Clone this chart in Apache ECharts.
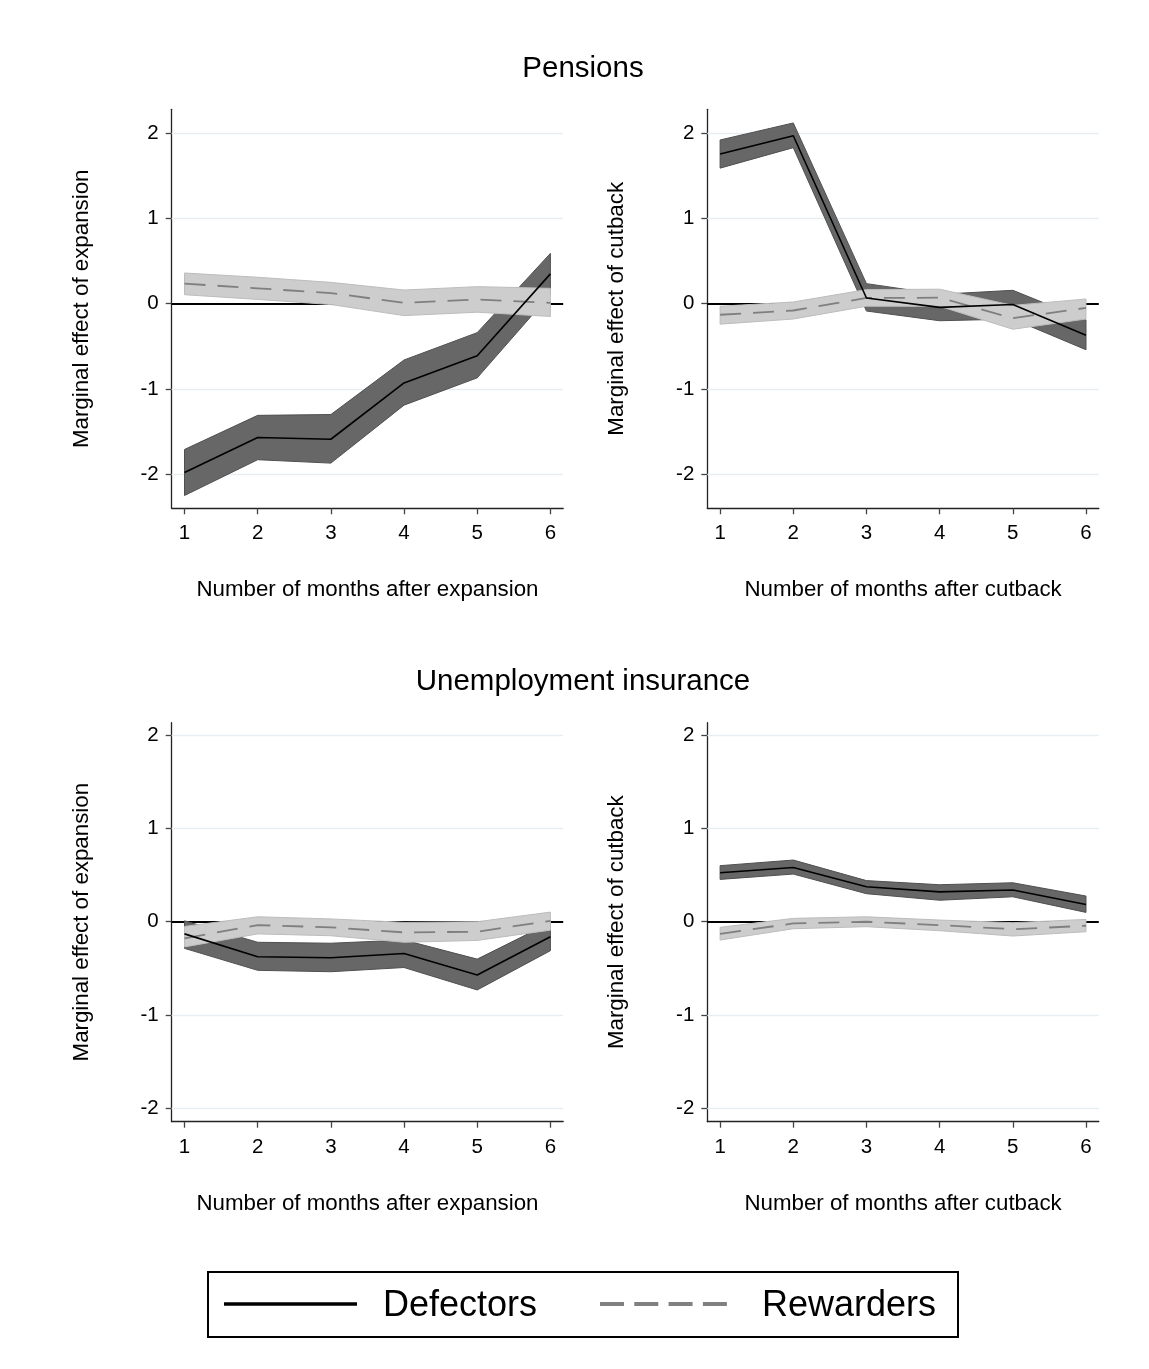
<!DOCTYPE html>
<html>
<head>
<meta charset="utf-8">
<title>Marginal effects: pensions and unemployment insurance</title>
<script src="https://cdn.jsdelivr.net/npm/echarts@6/dist/echarts.min.js"></script>
<style>
  html, body { margin: 0; padding: 0; background: #fff; }
  #chart { width: 1149px; height: 1369px; }
</style>
</head>
<body>
<div id="chart"></div>
<script>
// Months after the reform
const months = [1, 2, 3, 4, 5, 6];
const yTicks = [-2, -1, 0, 1, 2];

// Pensions, expansion
const pensExpDefEst = [-1.98, -1.57, -1.59, -0.93, -0.61, 0.35];
const pensExpDefLo  = [-2.25, -1.83, -1.87, -1.19, -0.87, 0.11];
const pensExpDefHi  = [-1.71, -1.31, -1.30, -0.66, -0.34, 0.59];
const pensExpRewEst = [0.235, 0.18, 0.125, 0.01, 0.05, 0.01];
const pensExpRewLo  = [0.105, 0.05, -0.01, -0.14, -0.10, -0.15];
const pensExpRewHi  = [0.36, 0.31, 0.25, 0.16, 0.20, 0.18];

// Pensions, cutback
const pensCutDefEst = [1.755, 1.97, 0.067, -0.043, -0.01, -0.37];
const pensCutDefLo  = [1.59, 1.83, -0.086, -0.20, -0.18, -0.54];
const pensCutDefHi  = [1.92, 2.12, 0.235, 0.11, 0.157, -0.19];
const pensCutRewEst = [-0.13, -0.08, 0.067, 0.07, -0.17, -0.05];
const pensCutRewLo  = [-0.24, -0.18, -0.03, -0.03, -0.30, -0.18];
const pensCutRewHi  = [-0.03, 0.02, 0.165, 0.17, -0.02, 0.055];

// Unemployment insurance, expansion
const uiExpDefEst = [-0.13, -0.374, -0.385, -0.34, -0.57, -0.16];
const uiExpDefLo  = [-0.285, -0.52, -0.535, -0.49, -0.73, -0.31];
const uiExpDefHi  = [0.01, -0.22, -0.23, -0.196, -0.40, -0.01];
const uiExpRewEst = [-0.178, -0.036, -0.06, -0.114, -0.107, 0.01];
const uiExpRewLo  = [-0.27, -0.13, -0.15, -0.22, -0.20, -0.09];
const uiExpRewHi  = [-0.05, 0.053, 0.03, -0.007, 0.0, 0.103];

// Unemployment insurance, cutback
const uiCutDefEst = [0.524, 0.58, 0.374, 0.32, 0.34, 0.185];
const uiCutDefLo  = [0.453, 0.51, 0.30, 0.23, 0.267, 0.10];
const uiCutDefHi  = [0.60, 0.66, 0.44, 0.396, 0.417, 0.275];
const uiCutRewEst = [-0.13, -0.018, 0.0, -0.036, -0.08, -0.043];
const uiCutRewLo  = [-0.196, -0.075, -0.053, -0.096, -0.153, -0.107];
const uiCutRewHi  = [-0.06, 0.036, 0.053, 0.018, -0.01, 0.025];

const FONT = "'Liberation Sans', Arial, Helvetica, sans-serif";

const panels = [
  { left: 171.7, top: 109.3, yMin: -2.40, yMax: 2.28, xName: 'Number of months after expansion', yName: 'Marginal effect of expansion',
    def: [pensExpDefEst, pensExpDefLo, pensExpDefHi], rew: [pensExpRewEst, pensExpRewLo, pensExpRewHi] },
  { left: 707.3, top: 109.3, yMin: -2.40, yMax: 2.28, xName: 'Number of months after cutback', yName: 'Marginal effect of cutback',
    def: [pensCutDefEst, pensCutDefLo, pensCutDefHi], rew: [pensCutRewEst, pensCutRewLo, pensCutRewHi] },
  { left: 171.7, top: 722.7, yMin: -2.14, yMax: 2.13, xName: 'Number of months after expansion', yName: 'Marginal effect of expansion',
    def: [uiExpDefEst, uiExpDefLo, uiExpDefHi], rew: [uiExpRewEst, uiExpRewLo, uiExpRewHi] },
  { left: 707.3, top: 722.7, yMin: -2.14, yMax: 2.13, xName: 'Number of months after cutback', yName: 'Marginal effect of cutback',
    def: [uiCutDefEst, uiCutDefLo, uiCutDefHi], rew: [uiCutRewEst, uiCutRewLo, uiCutRewHi] }
];

const grids = [], xAxes = [], yAxes = [], series = [];

function bandSeries(idx, lo, hi, fill, stroke, z) {
  return {
    type: 'custom', xAxisIndex: idx, yAxisIndex: idx, z: z, silent: true,
    data: months.map((m, i) => [m, lo[i], hi[i]]),
    encode: { x: 0, y: [1, 2] },
    renderItem: function (params, api) {
      if (params.dataIndex !== 0) return null;
      const upper = months.map((m, i) => api.coord([m, hi[i]]));
      const lower = months.map((m, i) => api.coord([m, lo[i]])).reverse();
      return {
        type: 'polygon',
        shape: { points: upper.concat(lower) },
        style: { fill: fill, stroke: stroke, lineWidth: 1 }
      };
    }
  };
}

function lineSeries(idx, name, est, style, z) {
  return {
    type: 'line', name: name, xAxisIndex: idx, yAxisIndex: idx, z: z, silent: true,
    symbol: 'none', showSymbol: false,
    data: months.map((m, i) => [m, est[i]]),
    lineStyle: style
  };
}

panels.forEach((p, idx) => {
  grids.push({ left: p.left, top: p.top, width: 391.5, height: 399, containLabel: false });
  xAxes.push({
    type: 'value', gridIndex: idx, min: 0.825, max: 6.175,
    name: p.xName, nameLocation: 'middle', nameGap: 71,
    nameTextStyle: { fontFamily: FONT, fontSize: 22.3, color: '#000' },
    axisLine: { show: true, onZero: false, lineStyle: { color: '#222', width: 1.3 } },
    axisTick: { show: true, length: 6, customValues: months, lineStyle: { color: '#444', width: 1.3 } },
    axisLabel: { customValues: months, margin: 15, fontFamily: FONT, fontSize: 20.5, color: '#000' },
    splitLine: { show: false }
  });
  yAxes.push({
    type: 'value', gridIndex: idx, min: p.yMin, max: p.yMax,
    name: p.yName, nameLocation: 'middle', nameGap: 79, nameRotate: 90,
    nameTextStyle: { fontFamily: FONT, fontSize: 22.3, color: '#000' },
    axisLine: { show: true, onZero: false, lineStyle: { color: '#222', width: 1.3 } },
    axisTick: { show: true, length: 6, customValues: yTicks, lineStyle: { color: '#444', width: 1.3 } },
    axisLabel: { customValues: yTicks, margin: 13, fontFamily: FONT, fontSize: 20.5, color: '#000' },
    splitLine: { show: false }
  });

  // light horizontal grid lines plus the zero reference line, under the bands
  series.push({
    type: 'line', xAxisIndex: idx, yAxisIndex: idx, z: 1, silent: true,
    symbol: 'none', data: months.map((m, i) => [m, p.def[0][i]]),
    lineStyle: { opacity: 0 },
    markLine: {
      z: 1, silent: true, symbol: ['none', 'none'], animation: false,
      label: { show: false },
      lineStyle: { color: '#e6eef1', width: 1.3, type: 'solid' },
      data: yTicks.filter(v => v !== 0).map(v => ({ yAxis: v }))
        .concat([{ yAxis: 0, lineStyle: { color: '#000', width: 2, type: 'solid' } }])
    }
  });

  series.push(bandSeries(idx, p.def[1], p.def[2], '#676767', '#505050', 3));
  series.push(bandSeries(idx, p.rew[1], p.rew[2], '#cdcdcd', '#bdbdbd', 3));
  series.push(lineSeries(idx, 'Defectors', p.def[0], { color: '#000', width: 1.6, type: 'solid' }, 5));
  series.push(lineSeries(idx, 'Rewarders', p.rew[0], { color: '#7f7f7f', width: 1.8, type: [21, 12] }, 4));
});

const chart = echarts.init(document.getElementById('chart'), null, { renderer: 'canvas' });
chart.setOption({
  animation: false,
  backgroundColor: '#fff',
  title: [
    { text: 'Pensions', left: 578, top: 49, textAlign: 'center',
      textStyle: { fontFamily: FONT, fontSize: 29.5, fontWeight: 'normal', color: '#000' } },
    { text: 'Unemployment insurance', left: 578, top: 662, textAlign: 'center',
      textStyle: { fontFamily: FONT, fontSize: 29.5, fontWeight: 'normal', color: '#000' } }
  ],
  grid: grids,
  xAxis: xAxes,
  yAxis: yAxes,
  series: series,
  graphic: [
    { type: 'rect', shape: { x: 208, y: 1272, width: 750, height: 65 },
      style: { fill: '#fff', stroke: '#000', lineWidth: 2 } },
    { type: 'line', shape: { x1: 224, y1: 1304, x2: 357, y2: 1304 },
      style: { stroke: '#000', lineWidth: 3.5 } },
    { type: 'text', x: 383, y: 1306,
      style: { text: 'Defectors', font: '36px ' + FONT, fill: '#000', textVerticalAlign: 'middle', verticalAlign: 'middle' } },
    { type: 'line', shape: { x1: 600, y1: 1304, x2: 727, y2: 1304 },
      style: { stroke: '#808080', lineWidth: 4, lineDash: [24, 10.3] } },
    { type: 'text', x: 762, y: 1306,
      style: { text: 'Rewarders', font: '36px ' + FONT, fill: '#000', textVerticalAlign: 'middle', verticalAlign: 'middle' } }
  ]
});
</script>
</body>
</html>
